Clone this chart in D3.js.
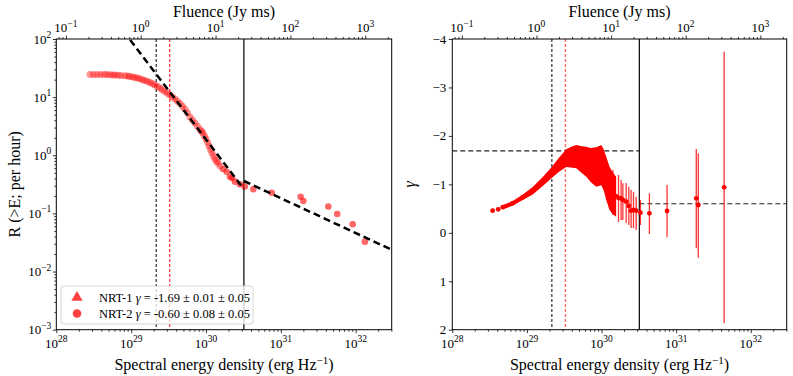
<!DOCTYPE html>
<html><head><meta charset="utf-8">
<script src="https://cdn.jsdelivr.net/npm/d3@7"></script>
<style>
body{margin:0;background:#fff}
svg{display:block}
text{font-family:"Liberation Serif","DejaVu Serif",serif;fill:#000}
</style></head><body>
<script>
// ---------------- data ----------------
// NRT-1 cumulative rate R(>E) (per hour) vs spectral energy density (erg/Hz)
const nrt1E = [2.82e28,3.14e28,3.5e28,3.9e28,4.34e28,4.75e28,5.2e28,5.7e28,6.09e28,6.7e28,7.3e28,8.28e28,9.0e28,9.66e28,1.05e29,1.13e29,1.22e29,1.31e29,1.42e29,1.53e29,1.66e29,1.79e29,1.93e29,2.08e29,2.25e29,2.43e29,2.62e29,2.83e29,3.06e29,3.30e29,3.56e29,3.85e29,4.16e29,4.49e29,4.85e29,5.24e29,5.66e29,6.11e29,6.6e29,7.13e29,7.7e29,8.32e29,8.7e29,9.12e29,9.55e29,1.0e30,1.05e30,1.10e30,1.15e30,1.20e30,1.26e30,1.32e30,1.38e30,1.45e30,1.54e30];
const nrt1R = [24.5,24.5,24.5,24.5,24.5,24.4,24.3,24.1,24.0,23.7,23.5,23.3,23.0,22.6,22.2,21.8,21.3,20.7,20.0,19.3,18.6,17.9,17.0,16.2,15.3,14.4,13.4,12.5,11.7,10.9,10.1,9.3,8.5,7.78,7.0,6.26,5.4,4.56,4.05,3.59,3.15,2.77,2.6,2.42,2.15,1.91,1.66,1.44,1.26,1.10,0.97,0.864,0.79,0.738,0.655];
// NRT-2 cumulative rate
const nrt2E = [1.69e30,1.89e30,2.09e30,2.23e30,2.44e30,2.84e30,3.30e30,4.29e30,7.55e30,1.84e31,2.00e31,4.31e31,5.67e31,9.12e31,1.33e32];
const nrt2R = [0.581,0.522,0.428,0.407,0.352,0.317,0.291,0.26,0.227,0.194,0.164,0.131,0.098,0.065,0.0327];
// power-law fits (end points)
const fit1E = [7.9e28, 3.21e30], fit1R = [136, 0.262];
const fit2E = [3.21e30, 3.03e32], fit2R = [0.361, 0.0237];
const fitGamma = [-1.69, -0.60];
// vertical reference lines (erg/Hz)
const vBlackDash = 2.16e29, vRedDash = 3.28e29, vBreak = 3.21e30;
// local slope gamma, NRT-1 dense band
const bandE  = [4.75e28,6.47e28,8.81e28,1.197e29,1.63e29,2.15e29,2.67e29,3.37e29,3.85e29,4.59e29,5.24e29,6.25e29,7.13e29,8.49e29,9.91e29,1.064e30,1.156e30,1.279e30,1.403e30,1.57e30];
const bandLo = [-0.574,-0.656,-0.790,-0.945,-1.152,-1.358,-1.544,-1.723,-1.771,-1.812,-1.792,-1.777,-1.750,-1.765,-1.812,-1.730,-1.571,-1.364,-1.255,-1.158];
const bandHi = [-0.481,-0.563,-0.677,-0.790,-0.966,-1.131,-1.255,-1.358,-1.348,-1.331,-1.255,-1.158,-1.05,-0.95,-0.98,-0.883,-0.677,-0.471,-0.388,-0.332];
const bandMid= [-0.528,-0.610,-0.733,-0.868,-1.06,-1.245,-1.40,-1.54,-1.56,-1.57,-1.52,-1.47,-1.43,-1.41,-1.45,-1.31,-1.12,-0.92,-0.82,-0.75];
// local slope gamma, individual points with errors
const gE  = [3.47e28,4.12e28,1.42e30,1.69e30,1.83e30,1.93e30,2.14e30,2.32e30,2.49e30,2.68e30,2.91e30,3.32e30,4.38e30,7.55e30,1.86e31,1.98e31,4.40e31];
const gVal= [-0.456,-0.485,-0.780,-0.718,-0.712,-0.677,-0.642,-0.553,-0.456,-0.471,-0.456,-0.415,-0.402,-0.450,-0.712,-0.574,-0.939];
const gLo = [-0.456,-0.485,-1.296,-1.193,-1.090,-1.022,-1.028,-0.952,-0.883,-0.848,-0.745,-0.677,-0.815,-0.987,-1.730,-1.641,-3.738];
const gHi = [-0.456,-0.485,-0.367,-0.223,-0.265,-0.264,-0.202,-0.161,-0.099,-0.093,-0.058,-0.161,0.025,0.093,0.320,0.514,1.868];
// axes
const eDomain = [1e28, 3.03e32];
const fluenceFactor = 1.343e29; // erg/Hz per Jy ms
const rDomain = [1e-3, 1e2];
const gDomain = [-4, 2];
const legendLabels = ["NRT-1 ", "NRT-2 "];
const legendRest = [" = -1.69 \u00b1 0.01 \u00b1 0.05", " = -0.60 \u00b1 0.08 \u00b1 0.05"];

// ---------------- drawing ----------------
const W = 793, H = 376;
const svg = d3.select("body").append("svg").attr("width", W).attr("height", H);
const yTop = 39, yBot = 329.7;
const panels = [{x0: 56.3, x1: 391.7}, {x0: 452.3, x1: 786.7}];
const RED = "#ff0000";

function sup(sel, base, exp, fs, efs) {
  sel.append("tspan").text(base);
  sel.append("tspan").attr("dy", -5.5).attr("font-size", efs).text(exp);
}
function expStr(e){ return e < 0 ? "\u2212" + (-e) : String(e); }

function logMinor(lo, hi) {
  const out = [];
  for (let d = Math.floor(Math.log10(lo)); d <= Math.ceil(Math.log10(hi)); d++) {
    for (let m = 2; m <= 9; m++) { const v = m * Math.pow(10, d); if (v >= lo && v <= hi) out.push(v); }
  }
  return out;
}
function logMajor(lo, hi) {
  const out = [];
  for (let d = Math.ceil(Math.log10(lo) - 1e-9); d <= Math.floor(Math.log10(hi) + 1e-9); d++) out.push(d);
  return out;
}

panels.forEach((p, i) => {
  const g = svg.append("g");
  const x = d3.scaleLog().domain(eDomain).range([p.x0, p.x1]);
  const xt = d3.scaleLog().domain([eDomain[0] / fluenceFactor, eDomain[1] / fluenceFactor]).range([p.x0, p.x1]);
  const clipId = "clip" + i;
  svg.append("clipPath").attr("id", clipId).append("rect").attr("x", p.x0).attr("y", yTop).attr("width", p.x1 - p.x0).attr("height", yBot - yTop);
  const plot = g.append("g").attr("clip-path", `url(#${clipId})`);

  // bottom axis
  const ax = g.append("g").attr("transform", `translate(0,${yBot})`);
  ax.call(d3.axisBottom(x).tickValues(logMinor(...eDomain)).tickSize(2).tickFormat(""));
  ax.append("g").call(d3.axisBottom(x).tickValues(logMajor(...eDomain).map(d => Math.pow(10, d))).tickSize(3.5).tickFormat(""));
  logMajor(...eDomain).forEach(d => {
    const t = g.append("text").attr("x", x(Math.pow(10, d))).attr("y", yBot + 18).attr("text-anchor", "middle").attr("font-size", 13);
    sup(t, "10", expStr(d), 13, 9.5);
  });
  // top axis
  const tdom = xt.domain();
  const at = g.append("g").attr("transform", `translate(0,${yTop})`);
  at.call(d3.axisTop(xt).tickValues(logMinor(...tdom)).tickSize(2).tickFormat(""));
  at.append("g").call(d3.axisTop(xt).tickValues(logMajor(...tdom).map(d => Math.pow(10, d))).tickSize(3.5).tickFormat(""));
  logMajor(...tdom).forEach(d => {
    const t = g.append("text").attr("x", xt(Math.pow(10, d))).attr("y", yTop - 7).attr("text-anchor", "middle").attr("font-size", 13);
    sup(t, "10", expStr(d), 13, 9.5);
  });
  g.selectAll(".domain").remove();
  g.selectAll(".tick line").attr("stroke", "#000").attr("stroke-width", 0.8);

  // titles
  const cx = (p.x0 + p.x1) / 2;
  g.append("text").attr("x", cx).attr("y", 17).attr("text-anchor", "middle").attr("font-size", 16).text("Fluence (Jy ms)");
  const xl = g.append("text").attr("x", cx).attr("y", 370).attr("text-anchor", "middle").attr("font-size", 16);
  xl.append("tspan").text("Spectral energy density (erg Hz");
  xl.append("tspan").attr("dy", -6).attr("font-size", 11).text("\u22121");
  xl.append("tspan").attr("dy", 6).text(")");

  if (i === 0) {
    const y = d3.scaleLog().domain(rDomain).range([yBot, yTop]);
    const ay = g.append("g").attr("transform", `translate(${p.x0},0)`);
    ay.call(d3.axisLeft(y).tickValues(logMinor(...rDomain)).tickSize(2).tickFormat(""));
    ay.append("g").call(d3.axisLeft(y).tickValues(logMajor(...rDomain).map(d => Math.pow(10, d))).tickSize(3.5).tickFormat(""));
    ay.selectAll(".domain").remove();
    ay.selectAll(".tick line").attr("stroke", "#000").attr("stroke-width", 0.8);
    logMajor(...rDomain).forEach(d => {
      const t = g.append("text").attr("x", p.x0 - 5).attr("y", y(Math.pow(10, d)) + 4.5).attr("text-anchor", "end").attr("font-size", 13);
      sup(t, "10", expStr(d), 13, 9.5);
    });
    g.append("text").attr("transform", `translate(20,${(yTop + yBot) / 2}) rotate(-90)`).attr("text-anchor", "middle").attr("font-size", 16).text("R (>E; per hour)");

    // vertical lines
    plot.append("line").attr("x1", x(vBlackDash)).attr("x2", x(vBlackDash)).attr("y1", yTop).attr("y2", yBot).attr("stroke", "#000").attr("stroke-width", 1).attr("stroke-dasharray", "3,2");
    plot.append("line").attr("x1", x(vRedDash)).attr("x2", x(vRedDash)).attr("y1", yTop).attr("y2", yBot).attr("stroke", RED).attr("stroke-width", 1).attr("stroke-dasharray", "3,2");
    plot.append("line").attr("x1", x(vBreak)).attr("x2", x(vBreak)).attr("y1", yTop).attr("y2", yBot).attr("stroke", "#000").attr("stroke-width", 1.2);

    // points
    plot.append("g").selectAll("circle").data(nrt1E).join("circle")
      .attr("cx", d => x(d)).attr("cy", (d, k) => y(nrt1R[k])).attr("r", 3.5).attr("fill", RED).attr("fill-opacity", 0.42);
    plot.append("g").selectAll("circle").data(nrt2E).join("circle")
      .attr("cx", d => x(d)).attr("cy", (d, k) => y(nrt2R[k])).attr("r", 3.3).attr("fill", RED).attr("fill-opacity", 0.6);

    // fits
    const line = d3.line().x(d => x(d[0])).y(d => y(d[1]));
    plot.append("path").attr("d", line(fit1E.map((e, k) => [e, fit1R[k]]))).attr("fill", "none").attr("stroke", "#000").attr("stroke-width", 2.5).attr("stroke-dasharray", "7,4");
    plot.append("path").attr("d", line(fit2E.map((e, k) => [e, fit2R[k]]))).attr("fill", "none").attr("stroke", "#000").attr("stroke-width", 2.5).attr("stroke-dasharray", "7,4");

    // legend
    const lg = g.append("g");
    lg.append("rect").attr("x", 61).attr("y", 286).attr("width", 192).attr("height", 38).attr("rx", 3)
      .attr("fill", "#fff").attr("fill-opacity", 0.8).attr("stroke", "#ccc").attr("stroke-width", 0.8);
    lg.append("path").attr("d", d3.symbol(d3.symbolTriangle, 55)()).attr("transform", "translate(77,297.5)").attr("fill", RED).attr("fill-opacity", 0.75);
    lg.append("circle").attr("cx", 77).attr("cy", 313.5).attr("r", 4.3).attr("fill", RED).attr("fill-opacity", 0.75);
    legendLabels.forEach((lab, k) => {
      const t = lg.append("text").attr("x", 99).attr("y", 301.5 + k * 16).attr("font-size", 12.5);
      t.append("tspan").text(lab);
      t.append("tspan").attr("font-style", "italic").text("\u03b3");
      t.append("tspan").text(legendRest[k]);
    });
  } else {
    const y = d3.scaleLinear().domain(gDomain).range([yTop, yBot]);
    const ay = g.append("g").attr("transform", `translate(${p.x0},0)`);
    ay.call(d3.axisLeft(y).tickValues(d3.range(-4, 3)).tickSize(3.5).tickFormat(""));
    ay.selectAll(".domain").remove();
    ay.selectAll(".tick line").attr("stroke", "#000").attr("stroke-width", 0.8);
    d3.range(-4, 3).forEach(v => {
      g.append("text").attr("x", p.x0 - 6).attr("y", y(v) + 4.5).attr("text-anchor", "end").attr("font-size", 13).text(v < 0 ? "\u2212" + (-v) : v);
    });
    g.append("text").attr("transform", `translate(415,${(yTop + yBot) / 2}) rotate(-90)`).attr("text-anchor", "middle").attr("font-size", 16).attr("font-style", "italic").text("\u03b3");

    plot.append("line").attr("x1", x(vBlackDash)).attr("x2", x(vBlackDash)).attr("y1", yTop).attr("y2", yBot).attr("stroke", "#000").attr("stroke-width", 1).attr("stroke-dasharray", "3,2");
    plot.append("line").attr("x1", x(vRedDash)).attr("x2", x(vRedDash)).attr("y1", yTop).attr("y2", yBot).attr("stroke", RED).attr("stroke-opacity", 0.6).attr("stroke-width", 1.4).attr("stroke-dasharray", "3,2");
    plot.append("line").attr("x1", x(vBreak)).attr("x2", x(vBreak)).attr("y1", yTop).attr("y2", yBot).attr("stroke", "#000").attr("stroke-width", 1.2);
    plot.append("line").attr("x1", p.x0).attr("x2", x(vBreak)).attr("y1", y(fitGamma[0])).attr("y2", y(fitGamma[0])).attr("stroke", "#222").attr("stroke-width", 1.2).attr("stroke-dasharray", "5,3");
    plot.append("line").attr("x1", x(vBreak)).attr("x2", p.x1).attr("y1", y(fitGamma[1])).attr("y2", y(fitGamma[1])).attr("stroke", "#222").attr("stroke-width", 1.2).attr("stroke-dasharray", "5,3");

    // dense band
    const area = d3.area().x(d => x(d.e)).y0(d => y(d.lo)).y1(d => y(d.hi));
    plot.append("path").attr("d", area(bandE.map((e, k) => ({e, lo: bandLo[k], hi: bandHi[k]})))).attr("fill", RED);
    plot.append("g").selectAll("circle").data(bandE).join("circle")
      .attr("cx", d => x(d)).attr("cy", (d, k) => y(bandMid[k])).attr("r", 2.4).attr("fill", RED);
    // error bars
    plot.append("g").selectAll("line").data(gE).join("line")
      .attr("x1", d => x(d)).attr("x2", d => x(d)).attr("y1", (d, k) => y(gLo[k])).attr("y2", (d, k) => y(gHi[k]))
      .attr("stroke", RED).attr("stroke-opacity", 0.8).attr("stroke-width", 1.3);
    plot.append("g").selectAll("circle").data(gE).join("circle")
      .attr("cx", d => x(d)).attr("cy", (d, k) => y(gVal[k])).attr("r", 2.4).attr("fill", RED);
  }
  // frame
  g.append("rect").attr("x", p.x0).attr("y", yTop).attr("width", p.x1 - p.x0).attr("height", yBot - yTop).attr("fill", "none").attr("stroke", "#000").attr("stroke-width", 1);
});
</script>
</body></html>
